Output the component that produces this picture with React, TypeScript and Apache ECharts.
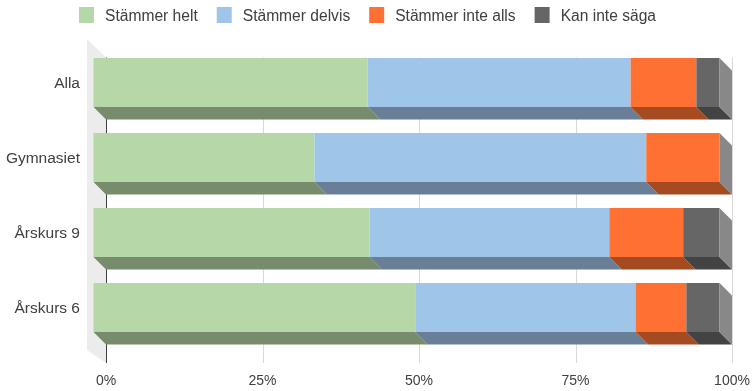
import React, { useEffect, useRef } from "react";
import * as echarts from "echarts";

const categories = ["Alla", "Gymnasiet", "Årskurs 9", "Årskurs 6"];
const seriesNames = ["Stämmer helt", "Stämmer delvis", "Stämmer inte alls", "Kan inte säga"];
const stammerHelt = [43.8, 35.3, 44.1, 51.4];
const stammerDelvis = [42.0, 53.0, 38.3, 35.2];
const stammerInteAlls = [10.5, 11.7, 11.8, 8.1];
const kanInteSaga = [3.7, 0, 5.8, 5.3];
const tickValues = [0, 25, 50, 75, 100];

const frontColors = ["#b6d7a8", "#9fc5e8", "#ff7033", "#666666"];
const bottomColors = ["#778c6d", "#687f97", "#a54a21", "#434343"];
const sideColor = "#888888";
const D = 12.5;
const BAR_H = 49;
const FLOOR_EXT = 5.5;

export default function App() {
  const ref = useRef<HTMLDivElement>(null);
  useEffect(() => {
    if (!ref.current) return;
    const chart = echarts.init(ref.current, null, { renderer: "svg" });
    const all = [stammerHelt, stammerDelvis, stammerInteAlls, kanInteSaga];
    const starts = categories.map(() => 0);
    const series: any[] = all.map((vals, si) => {
      const data = categories.map((c, ci) => {
        const s = starts[ci];
        const e = s + vals[ci];
        starts[ci] = e;
        return [s, ci, e];
      });
      const isLast = si === all.length - 1;
      return {
        type: "custom",
        name: seriesNames[si],
        z: 3,
        itemStyle: { color: frontColors[si] },
        encode: { x: [0, 2], y: 1 },
        data,
        renderItem: (params: any, api: any) => {
          const x0 = api.value(0);
          const ci = api.value(1);
          const x1 = api.value(2);
          const p0 = api.coord([x0, ci]);
          const p1 = api.coord([x1, ci]);
          const cy = p0[1];
          const top = cy - BAR_H / 2;
          const bottom = cy + BAR_H / 2;
          const children: any[] = [];
          if (p1[0] - p0[0] > 0) {
            children.push({
              type: "rect",
              shape: { x: p0[0] - D, y: top - D, width: p1[0] - p0[0], height: BAR_H },
              style: { fill: frontColors[si] },
            });
            children.push({
              type: "polygon",
              shape: {
                points: [
                  [p0[0] - D, bottom - D],
                  [p1[0] - D, bottom - D],
                  [p1[0], bottom],
                  [p0[0], bottom],
                ],
              },
              style: { fill: bottomColors[si] },
            });
          }
          if (isLast) {
            children.push({
              type: "polygon",
              shape: {
                points: [
                  [p1[0] - D, top - D],
                  [p1[0], top],
                  [p1[0], bottom],
                  [p1[0] - D, bottom - D],
                ],
              },
              style: { fill: sideColor },
            });
          }
          return { type: "group", children };
        },
      };
    });

    series.unshift({
      type: "custom",
      name: "grid",
      z: 1,
      silent: true,
      encode: { x: 0 },
      data: tickValues.map((v) => [v, 0]),
      renderItem: (params: any, api: any) => {
        const v = api.value(0);
        const p = api.coord([v, 0]);
        const cs = params.coordSys;
        const x = Math.round(p[0]) + 0.5;
        return {
          type: "line",
          shape: { x1: x, y1: cs.y, x2: x, y2: cs.y + cs.height + FLOOR_EXT },
          style: { stroke: v === 0 ? "#404040" : "#d9d9d9", lineWidth: 1 },
        };
      },
    });

    chart.setOption({
      animation: false,
      textStyle: { fontFamily: "Liberation Sans, Arial, sans-serif" },
      legend: {
        left: 74,
        top: 2,
        itemWidth: 15,
        itemHeight: 16,
        itemGap: 19,
        icon: "rect",
        textStyle: { fontSize: 15.6, color: "#404040", padding: [0, 0, 0, 6] },
        data: seriesNames,
      },
      graphic: [
        {
          type: "polygon",
          z: -1,
          shape: { points: [[87, 39], [106, 57.5], [106, 363], [87, 350]] },
          style: { fill: "#ececec" },
        },
      ],
      grid: { left: 106, right: 23, top: 57.5, height: 300 },
      xAxis: {
        type: "value",
        min: 0,
        max: 100,
        interval: 25,
        axisLine: { show: false },
        axisTick: { show: false },
        splitLine: { show: false },
        axisLabel: {
          margin: 15,
          fontSize: 14,
          color: "#404040",
          formatter: (v: number) => (tickValues.includes(v) ? v + "%" : ""),
        },
      },
      yAxis: {
        type: "category",
        inverse: true,
        data: categories,
        axisLine: { show: false },
        axisTick: { show: false },
        axisLabel: {
          margin: 26,
          fontSize: 15.5,
          color: "#404040",
          verticalAlign: "bottom",
          lineHeight: 25,
        },
      },
      series,
    });
    return () => chart.dispose();
  }, []);
  return (
    <div
      ref={ref}
      style={{ position: "fixed", left: 0, top: 0, width: 755, height: 391 }}
    />
  );
}
